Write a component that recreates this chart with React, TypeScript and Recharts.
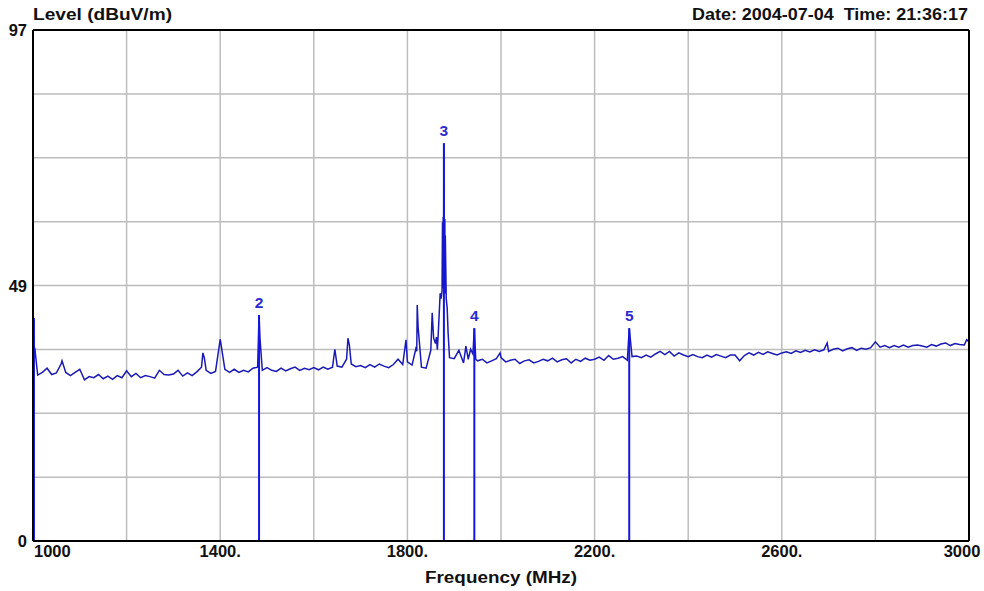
import React from 'react';
import { LineChart, Line, XAxis, YAxis, CartesianGrid, ReferenceLine } from 'recharts';

// Trace baseline: level (dBuV/m) every 10 MHz from 1000 to 3000
const baseStart = 1000;
const baseStep = 10;
const baseLevels = [
  42.3, 31.5, 32.0, 32.8, 31.6, 31.9, 33.6, 32.0, 31.4, 32.0,
  32.6, 30.6, 31.2, 31.0, 31.6, 30.8, 31.3, 30.7, 31.4, 31.0,
  32.3, 31.2, 31.8, 31.0, 31.4, 31.2, 30.9, 32.4, 31.6, 31.5,
  31.7, 32.4, 31.3, 31.9, 31.4, 32.1, 33.0, 32.4, 31.8, 32.2,
  38.3, 32.6, 32.0, 32.6, 32.0, 32.4, 32.1, 32.8, 33.0, 32.4,
  32.9, 32.4, 32.2, 32.8, 32.3, 32.7, 33.0, 32.4, 32.8, 32.5,
  32.9, 32.5, 33.0, 32.6, 33.0, 33.2, 33.0, 34.5, 33.6, 33.1,
  33.3, 32.9, 33.5, 33.0, 33.6, 33.2, 32.9, 33.5, 34.5, 33.5,
  34.0, 33.4, 36.0, 33.0, 32.8, 36.2, 37.5, 47.0, 61.0, 34.8,
  34.6, 36.2, 33.8, 34.5, 35.5, 34.2, 34.5, 33.8, 34.2, 34.6,
  34.8, 34.0, 34.3, 34.5, 33.7, 34.2, 34.4, 33.8, 34.1, 34.5,
  34.2, 34.7, 34.0, 34.4, 34.6, 33.8, 34.5, 34.1, 34.7, 34.3,
  34.5, 34.9, 34.3, 35.2, 34.5, 34.7, 35.0, 34.3, 35.0, 35.1,
  34.8, 35.3, 34.9, 35.5, 36.0, 35.4, 36.0, 35.1, 35.7, 35.3,
  35.0, 35.4, 35.0, 34.8, 35.3, 34.9, 35.4, 35.1, 34.8, 35.3,
  35.3, 34.2, 35.2, 35.7, 35.3, 35.8, 35.4, 35.9, 35.6, 35.3,
  35.7, 35.9, 35.6, 36.1, 35.8, 36.2, 35.9, 36.3, 36.0, 36.3,
  36.0, 36.4, 36.6, 36.1, 36.5, 36.7, 36.2, 36.6, 36.4, 36.7,
  37.8, 36.8, 37.1, 36.7, 37.1, 36.8, 37.2, 36.8, 37.1, 37.2,
  37.0, 36.8, 37.3, 37.0, 37.4, 37.6, 37.1, 37.5, 37.3, 37.2,
  37.8,
];

// Narrow spikes between the 10 MHz samples: [frequency MHz, level]
const spikePoints: [number, number][] = [
  [1002, 37.0], [1004, 36.5], [1062, 34.2], [1363, 35.7], [1366, 34.8], [1483, 42.9], [1485, 38.5],
  [1645, 36.4], [1673, 38.5], [1676, 37.2], [1797, 38.2], [1818, 36.5], [1821, 44.8],
  [1823, 40.5], [1853, 43.3], [1856, 38.5], [1862, 38.7], [1864, 36.3], [1866, 39.5],
  [1872, 46.0], [1874, 47.5], [1875, 60.5], [1876, 48.0], [1876.5, 61.5], [1877, 49.0],
  [1877.5, 61.0], [1878, 75.5], [1878.5, 61.5], [1879, 48.5], [1879.5, 61.0], [1880.5, 47.0],
  [1881, 58.0], [1883, 46.0], [1885, 44.2], [1887, 39.5], [1925, 37.0],
  [1935, 36.4], [1943, 40.4], [1946, 34.5], [1998, 35.7], [2274, 40.4], [2697, 37.6],
  [2995, 38.2],
];

// Markers
const markerFreqs = [1002, 1483, 1878, 1943, 2274];
const markerLevels = [42.3, 42.9, 75.5, 40.4, 40.4];
const markerLabels = ['', '2', '3', '4', '5'];

// Axis ticks
const xGridTicks = [1000, 1200, 1400, 1600, 1800, 2000, 2200, 2400, 2600, 2800, 3000];
const xLabelTicks = [1000, 1400, 1800, 2200, 2600, 3000];
const yGridTicks = [0, 12.125, 24.25, 36.375, 48.5, 60.625, 72.75, 84.875, 97];
const yLabelTicks: Record<string, string> = { '0': '0', '48.5': '49', '97': '97' };

const buildData = () => {
  const map = new Map<number, number>();
  baseLevels.forEach((v, i) => map.set(baseStart + i * baseStep, v));
  spikePoints.forEach(([f, v]) => map.set(f, v));
  return Array.from(map.entries())
    .sort((a, b) => a[0] - b[0])
    .map(([freq, level]) => ({ freq, level }));
};
const data = buildData();

const FONT = '"Liberation Sans", Arial, Helvetica, sans-serif';

const XTick = (props: any) => {
  const { x, y, payload } = props;
  const v = payload.value;
  if (!xLabelTicks.includes(v)) return null;
  let anchor: 'start' | 'middle' | 'end' = 'middle';
  let dx = 0;
  let text = `${v}.`;
  if (v === 1000) { anchor = 'start'; dx = 1; text = '1000'; }
  if (v === 3000) { anchor = 'middle'; dx = -7; text = '3000'; }
  return (
    <text x={x + dx} y={y + 8} textAnchor={anchor} fontFamily={FONT} fontWeight="bold" fontSize={16.5} fill="#111">
      {text}
    </text>
  );
};

const YTick = (props: any) => {
  const { x, y, payload } = props;
  const lbl = yLabelTicks[String(payload.value)];
  if (!lbl) return null;
  return (
    <text x={x + 2} y={y + 6} textAnchor="end" fontFamily={FONT} fontWeight="bold" fontSize={16.5} fill="#111">
      {lbl}
    </text>
  );
};

const markerLabel = (txt: string) => (props: any) => {
  const vb = props.viewBox || {};
  if (!txt) return null;
  return (
    <text x={vb.x} y={vb.y - 7} textAnchor="middle" fontFamily={FONT} fontWeight="bold" fontSize={15.5} fill="#2a2ad0">
      {txt}
    </text>
  );
};

export default function App() {
  return (
    <div style={{ position: 'absolute', left: 0, top: 0, width: 984, height: 591, background: '#fff' }}>
      <LineChart width={984} height={591} data={data} margin={{ top: 30, right: 15, bottom: 0, left: 0 }}>
        <CartesianGrid stroke="#bdbdbd" strokeWidth={1.5} />
        <XAxis
          dataKey="freq"
          type="number"
          domain={[1000, 3000]}
          ticks={xGridTicks}
          tick={<XTick />}
          tickLine={false}
          axisLine={{ stroke: '#000', strokeWidth: 2 }}
          height={50}
          interval={0}
          allowDataOverflow
        />
        <YAxis
          type="number"
          domain={[0, 97]}
          ticks={yGridTicks}
          tick={<YTick />}
          tickLine={false}
          axisLine={{ stroke: '#000', strokeWidth: 2 }}
          width={33}
          interval={0}
          allowDataOverflow
        />
        <Line
          type="linear"
          dataKey="level"
          stroke="#1a1ab4"
          strokeWidth={1.5}
          dot={false}
          isAnimationActive={false}
        />
        {markerFreqs.map((f, i) => (
          <ReferenceLine
            key={`m${i}`}
            segment={[{ x: f, y: 0 }, { x: f, y: markerLevels[i] }]}
            stroke="#1414e6"
            strokeWidth={2}
            label={markerLabel(markerLabels[i])}
          />
        ))}
        <ReferenceLine y={97} stroke="#000" strokeWidth={2} />
        <ReferenceLine x={3000} stroke="#000" strokeWidth={2} />
      </LineChart>
      <svg width={984} height={591} style={{ position: 'absolute', left: 0, top: 0, pointerEvents: 'none' }}>
        <text x={33} y={20} fontFamily={FONT} fontWeight="bold" fontSize={16} fill="#111" textLength={139} lengthAdjust="spacingAndGlyphs">
          Level (dBuV/m)
        </text>
        <text x={968} y={20} textAnchor="end" fontFamily={FONT} fontWeight="bold" fontSize={16} fill="#111" textLength={276} lengthAdjust="spacingAndGlyphs">
          {'Date: 2004-07-04\u00a0\u00a0Time: 21:36:17'}
        </text>
        <text x={425} y={583} fontFamily={FONT} fontWeight="bold" fontSize={16} fill="#111" textLength={152} lengthAdjust="spacingAndGlyphs">
          Frequency (MHz)
        </text>
      </svg>
    </div>
  );
}
